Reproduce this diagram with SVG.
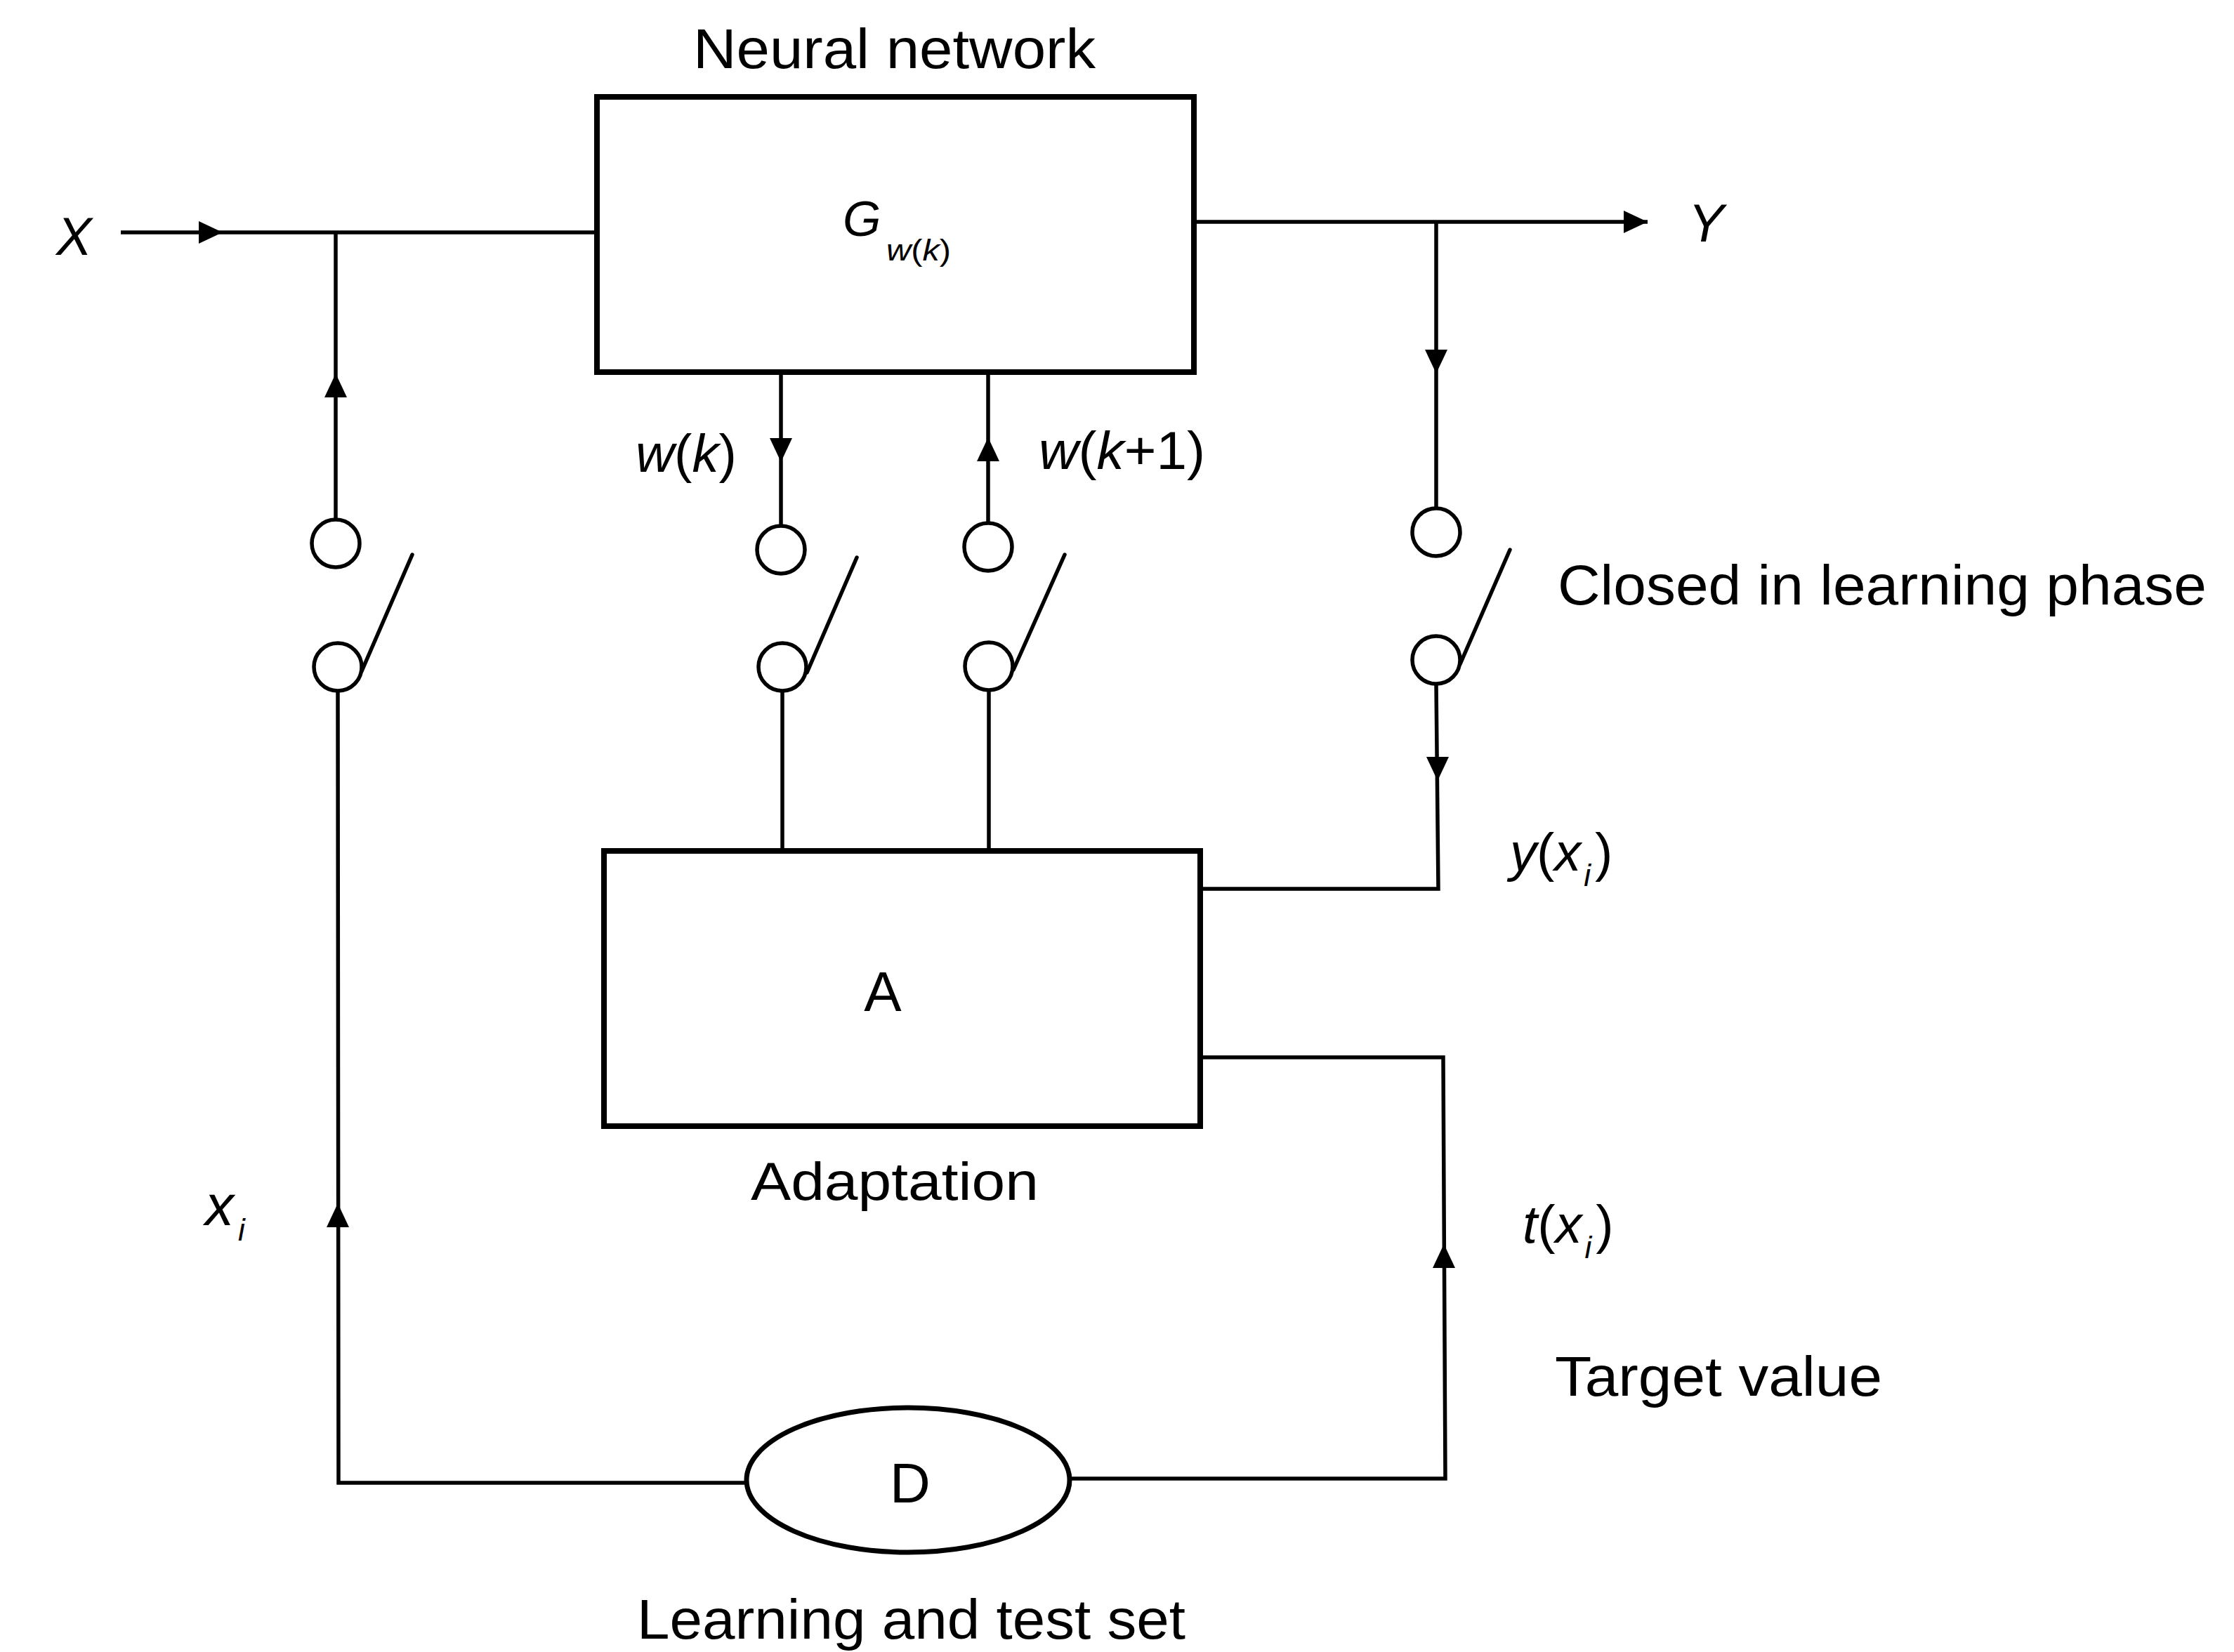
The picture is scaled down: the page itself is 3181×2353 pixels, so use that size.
<svg xmlns="http://www.w3.org/2000/svg" width="3181" height="2353" viewBox="0 0 3181 2353">
  <style>
    .box { fill: none; stroke: #000; stroke-width: 8; }
    .wire { fill: none; stroke: #000; stroke-width: 5.5; stroke-linejoin: miter; }
    .contact { fill: #fff; stroke: #000; stroke-width: 5.5; }
    .blade { stroke: #000; stroke-width: 5.5; stroke-linecap: round; }
    .oval { fill: #fff; stroke: #000; stroke-width: 7; }
    text { font-family: "Liberation Sans", Arial, Helvetica, sans-serif; fill: #000; }
    .lbl { font-size: 80px; }
    .var { font-size: 76px; }
    .it { font-style: italic; }
  </style>
  <defs>
    <!-- filled arrowhead, tip at origin, pointing along +x -->
    <path id="ah" d="M0 0 L-34 -16 L-34 16 Z" fill="#000"/>
  </defs>

  <rect x="0" y="0" width="3181" height="2353" fill="#fff"/>

  <!-- connectors -->
  <g id="connectors">
    <!-- input X into the network, with branch down to input switch -->
    <path class="wire" d="M172 331 H850"/>
    <path class="wire" d="M478 331 V740"/>
    <!-- learning sample x_i from D up to the input switch -->
    <path class="wire" d="M481 984 L482 2112 H1063"/>
    <!-- weights w(k) out of the network -->
    <path class="wire" d="M1112 530 V749"/>
    <path class="wire" d="M1114 984 V1212"/>
    <!-- weights w(k+1) back into the network -->
    <path class="wire" d="M1407 530 V745"/>
    <path class="wire" d="M1408 983 V1212"/>
    <!-- output Y with branch down to output switch -->
    <path class="wire" d="M1700 316 H2346"/>
    <path class="wire" d="M2045 316 V724"/>
    <!-- y(x_i) into adaptation -->
    <path class="wire" d="M2045 974 L2048 1266 H1709"/>
    <!-- target t(x_i) from D into adaptation -->
    <path class="wire" d="M1709 1506 H2055 L2058 2106 H1523"/>

    <!-- arrowheads -->
    <use href="#ah" transform="translate(317 331)"/>
    <use href="#ah" transform="translate(478 532) rotate(-90)"/>
    <use href="#ah" transform="translate(1112 658) rotate(90)"/>
    <use href="#ah" transform="translate(1407 623) rotate(-90)"/>
    <use href="#ah" transform="translate(2346 316)"/>
    <use href="#ah" transform="translate(2045 532) rotate(90)"/>
    <use href="#ah" transform="translate(2047 1112) rotate(90)"/>
    <use href="#ah" transform="translate(2056 1772) rotate(-90)"/>
    <use href="#ah" transform="translate(481 1714) rotate(-90)"/>
  </g>

  <!-- switches -->
  <g id="switch-input">
    <circle class="contact" cx="478" cy="774" r="34"/>
    <circle class="contact" cx="481" cy="950" r="34"/>
    <line class="blade" x1="515" y1="956" x2="587" y2="790"/>
  </g>
  <g id="switch-wk">
    <circle class="contact" cx="1112" cy="783" r="34"/>
    <circle class="contact" cx="1114" cy="950" r="34"/>
    <line class="blade" x1="1149" y1="958" x2="1220" y2="794"/>
  </g>
  <g id="switch-wk1">
    <circle class="contact" cx="1407" cy="779" r="34"/>
    <circle class="contact" cx="1408" cy="949" r="34"/>
    <line class="blade" x1="1443" y1="954" x2="1516" y2="790"/>
  </g>
  <g id="switch-output">
    <circle class="contact" cx="2045" cy="758" r="34"/>
    <circle class="contact" cx="2045" cy="940" r="34"/>
    <line class="blade" x1="2079" y1="946" x2="2150" y2="783"/>
  </g>

  <!-- neural network block -->
  <g id="node-network">
    <rect class="box" x="850" y="138" width="850" height="392"/>
    <text class="lbl" x="987" y="97" textLength="573" lengthAdjust="spacingAndGlyphs">Neural network</text>
    <text class="it" x="1200" y="336" font-size="70">G</text>
    <text x="1262" y="371" font-size="42" textLength="92" lengthAdjust="spacingAndGlyphs"><tspan class="it">w</tspan>(<tspan class="it">k</tspan>)</text>
  </g>

  <!-- adaptation block -->
  <g id="node-adaptation">
    <rect class="box" x="860" y="1212" width="849" height="392"/>
    <text class="lbl" x="1257" y="1440" text-anchor="middle">A</text>
    <text x="1069" y="1709" font-size="76" textLength="410" lengthAdjust="spacingAndGlyphs">Adaptation</text>
  </g>

  <!-- learning and test set -->
  <g id="node-dataset">
    <ellipse class="oval" cx="1293" cy="2108" rx="230" ry="103"/>
    <text class="lbl" x="1296" y="2140" text-anchor="middle">D</text>
    <text class="lbl" x="907" y="2334" textLength="781" lengthAdjust="spacingAndGlyphs">Learning and test set</text>
  </g>

  <!-- signal labels -->
  <g id="labels">
    <text class="var it" x="80" y="363" font-size="86">X</text>
    <text class="var it" x="2404" y="344" font-size="84">Y</text>
    <text class="var" x="905" y="672" textLength="144" lengthAdjust="spacingAndGlyphs"><tspan class="it">w</tspan>(<tspan class="it">k</tspan>)</text>
    <text class="var" x="1479" y="668" textLength="237" lengthAdjust="spacingAndGlyphs"><tspan class="it">w</tspan>(<tspan class="it">k</tspan>+1)</text>
    <text class="lbl" x="2218" y="861" textLength="924" lengthAdjust="spacingAndGlyphs">Closed in learning phase</text>
    <text class="var" x="2150" y="1240"><tspan class="it">y</tspan>(<tspan class="it">x</tspan><tspan class="it" font-size="44" dx="4" dy="22">i</tspan><tspan dx="6" dy="-22">)</tspan></text>
    <text class="var" x="2168" y="1770"><tspan class="it">t</tspan>(<tspan class="it">x</tspan><tspan class="it" font-size="44" dx="4" dy="22">i</tspan><tspan dx="6" dy="-22">)</tspan></text>
    <text class="var" x="292" y="1745"><tspan class="it" font-size="82">x</tspan><tspan class="it" font-size="44" dx="6" dy="22">i</tspan></text>
    <text class="lbl" x="2214" y="1988" textLength="466" lengthAdjust="spacingAndGlyphs">Target value</text>
  </g>
</svg>
